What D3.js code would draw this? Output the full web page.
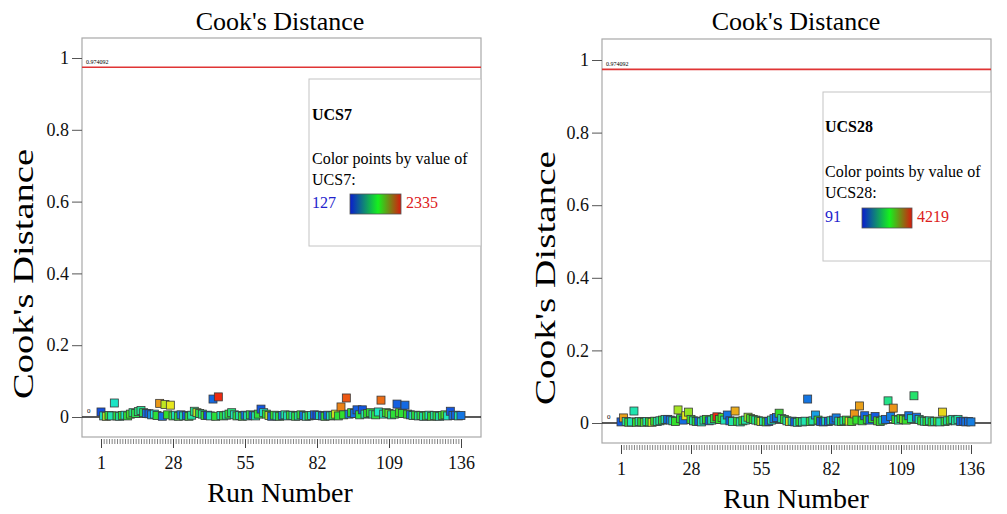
<!DOCTYPE html>
<html>
<head>
<meta charset="utf-8">
<script src="https://cdn.jsdelivr.net/npm/d3@7"></script>
<style>
  html, body { margin: 0; padding: 0; background: #fff; }
  svg { display: block; }
  svg text { font-family: "Liberation Serif", "Times New Roman", serif; }
</style>
</head>
<body>
<svg id="chart" width="1007" height="514"></svg>
<script>
// ---------------- DATA ----------------
const runs = d3.range(1, 137);
const xTickLabels = [1, 28, 55, 82, 109, 136];
const yTickValues = [0, 0.2, 0.4, 0.6, 0.8, 1];
const chartTitle = "Cook's Distance";
const xTitle = "Run Number";
const yTitle = "Cook's Distance";
const thresholdValue = 0.974092;

// Panel 1: UCS7
const ucs7Name = "UCS7";
const ucs7Range = [127, 2335];
const cookUCS7 = [
  0.014, 0.003, 0.002, 0.004, 0.003, 0.039, 0.003, 0.002, 0.004, 0.005,
  0.003, 0.008, 0.012, 0.010, 0.015, 0.018, 0.012, 0.010, 0.009, 0.006,
  0.008, 0.004, 0.038, 0.002, 0.035, 0.006, 0.033, 0.003, 0.005, 0.002,
  0.006, 0.003, 0.004, 0.002, 0.005, 0.016, 0.012, 0.010, 0.008, 0.004,
  0.005, 0.003, 0.050, 0.002, 0.056, 0.004, 0.003, 0.005, 0.008, 0.012,
  0.006, 0.003, 0.004, 0.002, 0.005, 0.003, 0.006, 0.004, 0.003, 0.008,
  0.022, 0.012, 0.008, 0.004, 0.002, 0.005, 0.003, 0.002, 0.004, 0.006,
  0.003, 0.005, 0.004, 0.002, 0.003, 0.006, 0.004, 0.002, 0.003, 0.004,
  0.006, 0.005, 0.004, 0.003, 0.002, 0.005, 0.003, 0.004, 0.008, 0.003,
  0.028, 0.006, 0.053, 0.008, 0.012, 0.010, 0.020, 0.006, 0.020, 0.008,
  0.010, 0.012, 0.008, 0.006, 0.014, 0.047, 0.008, 0.012, 0.010, 0.006,
  0.008, 0.036, 0.012, 0.010, 0.033, 0.008, 0.006, 0.004, 0.005, 0.003,
  0.004, 0.002, 0.003, 0.005, 0.002, 0.004, 0.003, 0.002, 0.004, 0.006,
  0.003, 0.016, 0.004, 0.005, 0.003, 0.004
];
const valueUCS7 = [
  200, 800, 1700, 1300, 850, 780, 1250, 900, 1350, 750,
  1300, 1400, 1000, 1200, 1050, 950, 1150, 300, 250, 400,
  700, 1300, 2050, 300, 1750, 1350, 1850, 1250, 800, 1300,
  350, 850, 250, 1300, 900, 1000, 1750, 1200, 950, 1350,
  200, 850, 280, 1300, 2300, 800, 1250, 900, 1300, 1050,
  800, 1250, 850, 1300, 300, 850, 1250, 250, 900, 1300,
  220, 750, 1300, 1750, 300, 1350, 850, 1250, 350, 900,
  800, 1300, 850, 1250, 900, 1300, 300, 850, 1250, 800,
  250, 200, 850, 300, 1300, 280, 850, 1250, 1800, 1300,
  2100, 1350, 2200, 350, 1300, 300, 250, 1250, 220, 850,
  1350, 1300, 900, 1250, 800, 2150, 850, 1350, 1500, 900,
  1300, 250, 1400, 1300, 280, 1350, 300, 850, 1300, 900,
  1250, 850, 1300, 800, 1350, 900, 1250, 850, 1300, 1400,
  800, 220, 300, 260, 850, 320
];

// Panel 2: UCS28
const ucs28Name = "UCS28";
const ucs28Range = [91, 4219];
const cookUCS28 = [
  0.003, 0.014, 0.004, 0.002, 0.003, 0.033, 0.002, 0.004, 0.003, 0.002,
  0.004, 0.003, 0.002, 0.005, 0.004, 0.006, 0.008, 0.010, 0.010, 0.008,
  0.006, 0.004, 0.036, 0.012, 0.008, 0.020, 0.030, 0.010, 0.006, 0.004,
  0.005, 0.003, 0.008, 0.010, 0.006, 0.008, 0.012, 0.017, 0.010, 0.015,
  0.008, 0.022, 0.006, 0.004, 0.033, 0.005, 0.003, 0.006, 0.008, 0.016,
  0.012, 0.010, 0.008, 0.006, 0.004, 0.005, 0.003, 0.004, 0.008, 0.012,
  0.015, 0.027, 0.012, 0.010, 0.006, 0.004, 0.005, 0.003, 0.002, 0.004,
  0.003, 0.005, 0.066, 0.004, 0.006, 0.022, 0.008, 0.004, 0.003, 0.005,
  0.004, 0.006, 0.008, 0.014, 0.005, 0.004, 0.006, 0.008, 0.005, 0.004,
  0.025, 0.008, 0.047, 0.006, 0.020, 0.010, 0.008, 0.012, 0.018, 0.006,
  0.004, 0.008, 0.010, 0.061, 0.018, 0.041, 0.010, 0.008, 0.012, 0.010,
  0.008, 0.020, 0.012, 0.075, 0.016, 0.010, 0.006, 0.005, 0.004, 0.006,
  0.003, 0.004, 0.005, 0.003, 0.030, 0.004, 0.006, 0.008, 0.010, 0.006,
  0.010, 0.004, 0.005, 0.003, 0.004, 0.003
];
const valueUCS28 = [
  300, 3650, 1500, 2300, 1400, 1450, 2400, 1500, 2300, 2500,
  1400, 2300, 3200, 2400, 1500, 1600, 2300, 1450, 400, 500,
  1500, 2400, 3000, 2300, 400, 3300, 2900, 2400, 1500, 2300,
  350, 1400, 1600, 2400, 300, 1500, 2300, 4150, 2400, 2500,
  1400, 450, 300, 1500, 3600, 2300, 1450, 2400, 1500, 2900,
  2500, 2400, 1500, 2300, 3200, 1450, 2400, 350, 1500, 500,
  400, 2400, 1500, 2300, 1450, 3200, 1500, 300, 1400, 2400,
  1500, 1450, 450, 2300, 1500, 700, 2400, 300, 250, 1400,
  350, 1500, 400, 500, 1500, 2400, 1450, 2300, 3300, 2500,
  3700, 2400, 3650, 2300, 350, 2400, 400, 2300, 300, 2500,
  2400, 1500, 400, 1700, 500, 3700, 2400, 1500, 2300, 2800,
  2400, 450, 1500, 1900, 400, 1500, 2400, 1450, 2300, 1500,
  2400, 1400, 2500, 1500, 3400, 2300, 1500, 2400, 1450, 1600,
  1500, 350, 300, 450, 400, 500
];

// ---------------- LAYOUT ----------------
const panels = [
  {
    name: ucs7Name, range: ucs7Range, cook: cookUCS7, value: valueUCS7,
    frame: {x0: 82, x1: 481, y0: 38, y1: 437},
    xr: [101, 461], yr: [417, 58],
    titleX: 280, titleY: 30, xTitleY: 502, xTickGap: 2,
    yTitleX: 33, yTitleY: 274, yTitleLen: 250,
    legend: {x0: 309, y0: 79, y1: 246, tx: 312, t1: 120, t2: 164, t3: 185, t4: 208,
             gx: 350, gw: 51, gy: 194, gh: 20, maxX: 406}
  },
  {
    name: ucs28Name, range: ucs28Range, cook: cookUCS28, value: valueUCS28,
    frame: {x0: 602, x1: 991, y0: 39, y1: 443},
    xr: [621, 971], yr: [423, 60],
    titleX: 796, titleY: 30, xTitleY: 508, xTickGap: 2,
    yTitleX: 555, yTitleY: 278, yTitleLen: 254,
    legend: {x0: 823, y0: 92, y1: 261, tx: 825, t1: 132, t2: 177, t3: 198, t4: 222,
             gx: 862, gw: 50, gy: 208, gh: 20, maxX: 917}
  }
];

const svg = d3.select("#chart");
const defs = svg.append("defs");
const grad = defs.append("linearGradient").attr("id", "legGrad")
  .attr("x1", "0%").attr("x2", "100%").attr("y1", "0%").attr("y2", "0%");
grad.append("stop").attr("offset", "0%").attr("stop-color", "#0a1ccf");
grad.append("stop").attr("offset", "55%").attr("stop-color", "#16f01e");
grad.append("stop").attr("offset", "100%").attr("stop-color", "#d81a0c");

panels.forEach((p) => {
  const g = svg.append("g");
  const f = p.frame;
  const x = d3.scaleLinear().domain([1, 136]).range(p.xr);
  const y = d3.scaleLinear().domain([0, 1]).range(p.yr);
  const mid = p.range[0] + 0.55 * (p.range[1] - p.range[0]);
  const color = d3.scaleLinear()
    .domain([p.range[0], mid, p.range[1]])
    .range(["#1238e0", "#2ee02e", "#ee1a10"])
    .interpolate(d3.interpolateHsl);

  // title
  g.append("text").attr("x", p.titleX).attr("y", p.titleY)
    .attr("text-anchor", "middle").attr("font-size", 26).text(chartTitle);

  // frame
  g.append("rect").attr("x", f.x0).attr("y", f.y0)
    .attr("width", f.x1 - f.x0).attr("height", f.y1 - f.y0)
    .attr("fill", "none").attr("stroke", "#a8a8a8").attr("stroke-width", 1.2);

  // y axis
  const yAxis = d3.axisLeft(y).tickValues(yTickValues)
    .tickSize(10).tickPadding(3)
    .tickFormat(d => d === 0 ? "0" : d === 1 ? "1" : d3.format(".1f")(d));
  const ya = g.append("g").attr("transform", `translate(${f.x0},0)`).call(yAxis);
  ya.attr("font-family", null);
  ya.select(".domain").remove();
  ya.selectAll("line").attr("stroke", "#555");
  ya.selectAll("text").attr("font-size", 18).attr("fill", "#111");

  // y title
  g.append("text")
    .attr("transform", `translate(${p.yTitleX},${p.yTitleY}) rotate(-90)`)
    .attr("text-anchor", "middle").attr("font-size", 29)
    .attr("textLength", p.yTitleLen).attr("lengthAdjust", "spacingAndGlyphs")
    .text(yTitle);

  // x axis: minor ticks
  const ax = f.y1 + p.xTickGap;
  const minor = d3.axisBottom(x).tickValues(runs).tickSize(5).tickFormat("");
  const xm = g.append("g").attr("transform", `translate(0,${ax})`).call(minor);
  xm.select(".domain").remove();
  xm.selectAll("line").attr("stroke", "#666").attr("stroke-width", 0.8);
  const major = d3.axisBottom(x).tickValues(xTickLabels).tickSize(9).tickPadding(8);
  const xa = g.append("g").attr("transform", `translate(0,${ax})`).call(major);
  xa.attr("font-family", null);
  xa.select(".domain").remove();
  xa.selectAll("line").attr("stroke", "#444");
  xa.selectAll("text").attr("font-size", 18).attr("fill", "#111");

  // x title
  g.append("text").attr("x", p.titleX).attr("y", p.xTitleY)
    .attr("text-anchor", "middle").attr("font-size", 28).text(xTitle);

  // threshold line
  g.append("line").attr("x1", f.x0).attr("x2", f.x1)
    .attr("y1", y(thresholdValue)).attr("y2", y(thresholdValue))
    .attr("stroke", "#e03434").attr("stroke-width", 1.6);
  g.append("text").attr("x", f.x0 + 4).attr("y", y(thresholdValue) - 3)
    .attr("font-size", 6).text(String(thresholdValue));

  // zero line
  g.append("line").attr("x1", f.x0).attr("x2", f.x1)
    .attr("y1", y(0)).attr("y2", y(0))
    .attr("stroke", "#222").attr("stroke-width", 1.5);
  g.append("text").attr("x", f.x0 + 5).attr("y", y(0) - 4)
    .attr("font-size", 7).text("0");

  // legend box
  const L = p.legend;
  g.append("rect").attr("x", L.x0).attr("y", L.y0)
    .attr("width", f.x1 - L.x0).attr("height", L.y1 - L.y0)
    .attr("fill", "#fff").attr("stroke", "#c4c4c4").attr("stroke-width", 1);
  g.append("text").attr("x", L.tx).attr("y", L.t1).attr("font-size", 16)
    .attr("font-weight", "bold").text(p.name);
  g.append("text").attr("x", L.tx).attr("y", L.t2).attr("font-size", 16)
    .text("Color points by value of");
  g.append("text").attr("x", L.tx).attr("y", L.t3).attr("font-size", 16)
    .text(p.name + ":");
  g.append("text").attr("x", L.tx).attr("y", L.t4).attr("font-size", 16)
    .attr("fill", "#2222cc").text(p.range[0]);
  g.append("rect").attr("x", L.gx).attr("y", L.gy).attr("width", L.gw).attr("height", L.gh)
    .attr("fill", "url(#legGrad)").attr("stroke", "#555").attr("stroke-width", 0.8);
  g.append("text").attr("x", L.maxX).attr("y", L.t4).attr("font-size", 16)
    .attr("fill", "#dd2020").text(p.range[1]);

  // points
  const s = 8;
  const pts = runs.map((r, i) => ({run: r, cook: p.cook[i], val: p.value[i]}));
  g.append("g").selectAll("rect").data(pts).join("rect")
    .attr("x", d => x(d.run) - s / 2)
    .attr("y", d => y(d.cook) - s / 2)
    .attr("width", s).attr("height", s)
    .attr("fill", d => color(d.val))
    .attr("stroke", "#3a3a3a").attr("stroke-width", 0.8);
});
</script>
</body>
</html>
